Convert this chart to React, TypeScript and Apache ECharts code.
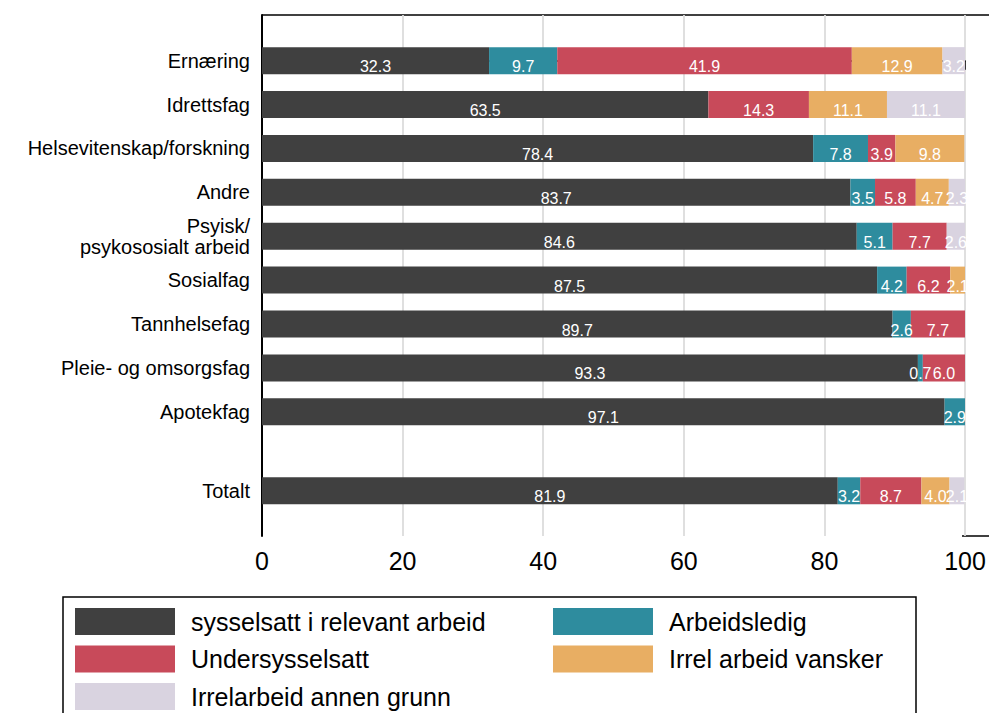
import React, { useEffect, useRef } from "react";
import * as echarts from "echarts";

const categories = [
  "Ernæring",
  "Idrettsfag",
  "Helsevitenskap/forskning",
  "Andre",
  "Psyisk/\npsykososialt arbeid",
  "Sosialfag",
  "Tannhelsefag",
  "Pleie- og omsorgsfag",
  "Apotekfag",
  "Totalt",
];
// vertical position of each row on the category scale (Totalt is set apart)
const positions = [0, 1, 2, 3, 4, 5, 6, 7, 8, 9.8];

const seriesNames = [
  "sysselsatt i relevant arbeid",
  "Arbeidsledig",
  "Undersysselsatt",
  "Irrel arbeid vansker",
  "Irrelarbeid annen grunn",
];
const relevant = [32.3, 63.5, 78.4, 83.7, 84.6, 87.5, 89.7, 93.3, 97.1, 81.9];
const arbeidsledig = [9.7, 0, 7.8, 3.5, 5.1, 4.2, 2.6, 0.7, 2.9, 3.2];
const undersysselsatt = [41.9, 14.3, 3.9, 5.8, 7.7, 6.2, 7.7, 6.0, 0, 8.7];
const irrelVansker = [12.9, 11.1, 9.8, 4.7, 0, 2.1, 0, 0, 0, 4.0];
const irrelAnnen = [3.2, 11.1, 0, 2.3, 2.6, 0, 0, 0, 0, 2.1];

const xTicks = [0, 20, 40, 60, 80, 100];

const colors = ["#404040", "#2e8c9e", "#c84a5a", "#e8ae63", "#d9d3e0"];
const seriesValues = [relevant, arbeidsledig, undersysselsatt, irrelVansker, irrelAnnen];

// legend slots: [series index, left, top]
const legendSlots: [number, number, number][] = [
  [0, 75, 608],
  [1, 553, 608],
  [2, 75, 645.5],
  [3, 553, 645.5],
  [4, 75, 683],
];

const FONT = "'Liberation Sans', Arial, sans-serif";

export default function App() {
  const ref = useRef<HTMLDivElement>(null);
  useEffect(() => {
    if (!ref.current) return;
    document.body.style.margin = "0";
    const chart = echarts.init(ref.current, null, { renderer: "svg" });

    const cum = categories.map(() => 0);
    const series = seriesValues.map((vals, si) => {
      const data = vals.map((v, i) => {
        const start = cum[i];
        cum[i] += v;
        return [start, start + v, positions[i], v];
      });
      const color = colors[si];
      return {
        type: "custom",
        name: seriesNames[si],
        itemStyle: { color },
        encode: { x: [0, 1], y: 2 },
        data,
        renderItem: (params: any, api: any) => {
          const s = api.value(0);
          const e = api.value(1);
          const p = api.value(2);
          const v = api.value(3);
          if (!v) return null;
          const a = api.coord([s, p]);
          const b = api.coord([e, p]);
          const h = 27;
          return {
            type: "group",
            children: [
              {
                type: "rect",
                shape: { x: a[0], y: a[1] - h / 2, width: b[0] - a[0], height: h },
                style: { fill: color },
              },
              {
                type: "text",
                z2: 100,
                style: {
                  text: v.toFixed(1),
                  x: (a[0] + b[0]) / 2,
                  y: a[1] + 6,
                  align: "center",
                  verticalAlign: "middle",
                  fill: "#ffffff",
                  fontSize: 16,
                  fontFamily: FONT,
                },
              },
            ],
          };
        },
      };
    });

    const legends = legendSlots.map(([si, left, top]) => ({
      left,
      top,
      padding: 0,
      itemWidth: 100,
      itemHeight: 27,
      icon: "rect",
      selectedMode: false,
      data: [seriesNames[si]],
      textStyle: { fontSize: 25, color: "#000", fontFamily: FONT, padding: [0, 0, 12, 11] },
    }));

    chart.setOption({
      animation: false,
      grid: { left: 262, right: 24, top: 15, bottom: 177, containLabel: false },
      legend: legends,
      xAxis: {
        type: "value",
        min: 0,
        max: 100,
        interval: 20,
        axisLine: { show: true, lineStyle: { color: "#000", width: 1.5 } },
        axisTick: { show: true, length: 9, lineStyle: { color: "#000", width: 1.5 } },
        axisLabel: {
          fontSize: 25,
          color: "#000",
          fontFamily: FONT,
          margin: 12,
          formatter: (v: number) => (xTicks.includes(v) ? String(v) : ""),
        },
        splitLine: { show: true, lineStyle: { color: "#dcdcdc", width: 1.8 } },
      },
      yAxis: {
        type: "value",
        inverse: true,
        min: -1.04,
        max: 10.83,
        axisLine: { show: true, onZero: false, lineStyle: { color: "#000", width: 2 } },
        axisTick: { show: false },
        splitLine: { show: false },
        axisLabel: {
          customValues: positions,
          fontSize: 20,
          color: "#000",
          fontFamily: FONT,
          lineHeight: 21,
          margin: 12,
          align: "right",
          formatter: (v: number) => {
            const i = positions.findIndex((p) => Math.abs(p - v) < 1e-6);
            return i >= 0 ? categories[i] : "";
          },
        },
      },
      graphic: [
        { type: "line", shape: { x1: 262, y1: 15, x2: 989, y2: 15 }, style: { stroke: "#000", lineWidth: 1.5 } },
        { type: "line", shape: { x1: 962, y1: 536, x2: 989, y2: 536 }, style: { stroke: "#000", lineWidth: 1.5 } },
        {
          type: "rect",
          shape: { x: 63, y: 597, width: 853, height: 140 },
          style: { fill: "none", stroke: "#000", lineWidth: 1.5 },
        },
      ],
      series,
    });
    return () => chart.dispose();
  }, []);
  return <div ref={ref} style={{ position: "absolute", left: 0, top: 0, width: 989, height: 713 }} />;
}
